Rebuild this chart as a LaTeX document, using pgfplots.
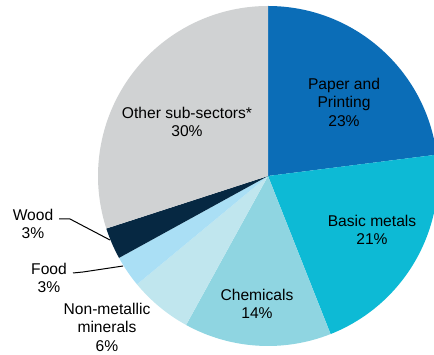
\documentclass[border=0pt]{standalone}
\usepackage{pgfplots}
\usepackage{pgfplotstable}
\pgfplotsset{compat=1.18}
\usepackage{fontspec}
\setmainfont{Liberation Sans}
\definecolor{slice0}{HTML}{0B6DB7}
\definecolor{slice1}{HTML}{0DBAD5}
\definecolor{slice2}{HTML}{8FD5E1}
\definecolor{slice3}{HTML}{C0E6EE}
\definecolor{slice4}{HTML}{AADFF5}
\definecolor{slice5}{HTML}{062842}
\definecolor{slice6}{HTML}{D0D2D3}
\pgfplotstableread{
label pct
Paper 23
Basic 21
Chem 14
NonMet 6
Food 3
Wood 3
Other 30
}\piedata
\begin{document}
\begin{tikzpicture}
\begin{axis}[hide axis, x=1pt, y=1pt, xmin=0, xmax=434, ymin=0, ymax=355, clip=true, name=ax]
\def\cum{0}
\pgfplotsforeachungrouped \i in {0,...,6}{%
  \pgfplotstablegetelem{\i}{pct}\of\piedata
  \let\p\pgfplotsretval
  \pgfmathsetmacro\sa{90-3.6*\cum}%
  \pgfmathsetmacro\ea{90-3.6*(\cum+\p)}%
  \pgfmathsetmacro\cum{\cum+\p}%
  \global\let\cum\cum
  \edef\temp{\noexpand\fill[slice\i] (axis cs:268,179) -- ++(\sa:170pt) arc[start angle=\sa, end angle=\ea, radius=170pt] -- cycle;}%
  \temp
}
\tikzset{lab/.style={align=center, font=\fontsize{15.6}{18.5}\selectfont, text=black}}
\node[lab] at (axis cs:344,253) {Paper and\\Printing\\23\%};
\node[lab] at (axis cs:372,125) {Basic metals\\21\%};
\node[lab] at (axis cs:257,51) {Chemicals\\14\%};
\node[lab] at (axis cs:107,28) {Non-metallic\\minerals\\6\%};
\node[lab] at (axis cs:49,77) {Food\\3\%};
\node[lab] at (axis cs:33,131) {Wood\\3\%};
\node[lab] at (axis cs:187,233) {Other sub-sectors*\\30\%};
\draw[line width=1pt] (axis cs:59,136) -- (axis cs:70,136) -- (axis cs:110,115);
\draw[line width=1pt] (axis cs:73,82) -- (axis cs:83,83) -- (axis cs:123,89);
\end{axis}
\pgfresetboundingbox
\path (ax.south west) rectangle (ax.north east);
\end{tikzpicture}
\end{document}
